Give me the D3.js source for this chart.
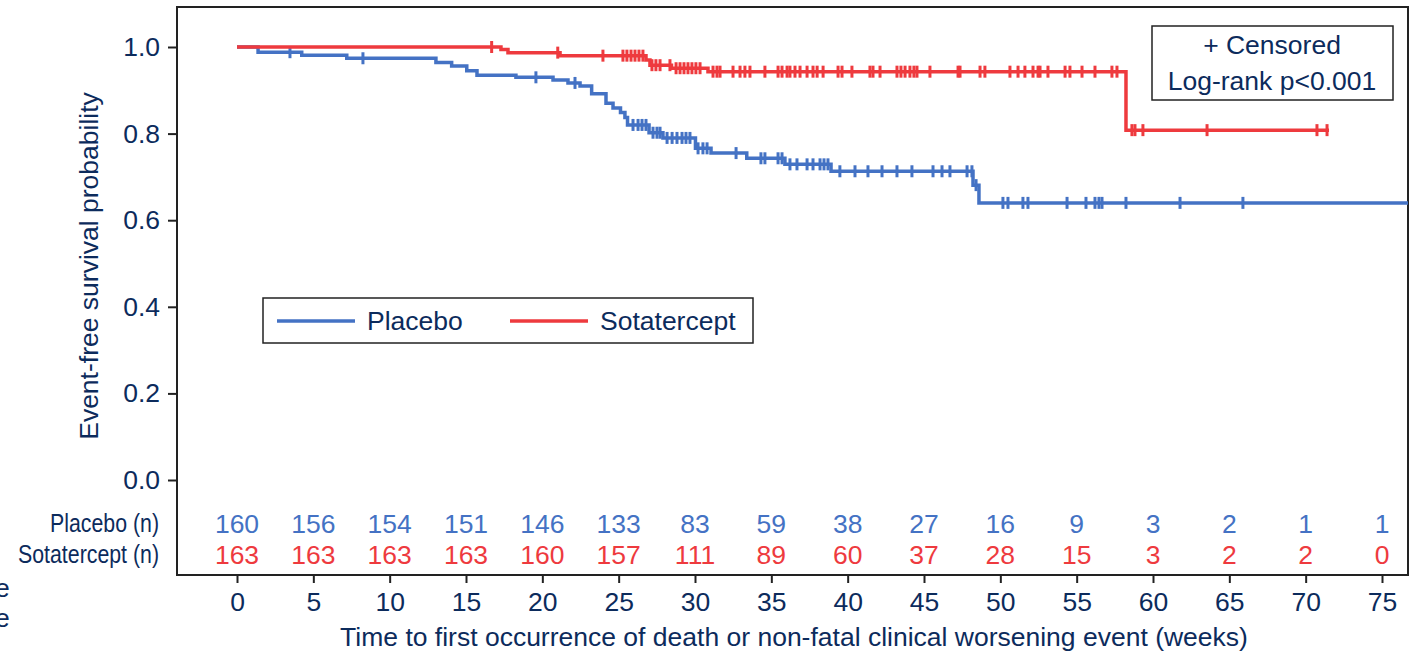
<!DOCTYPE html>
<html>
<head>
<meta charset="utf-8">
<script src="https://cdn.jsdelivr.net/npm/d3@7"></script>
<style>
  body { margin: 0; background: #fff; }
  svg { display: block; font-family: "Liberation Sans", Arial, sans-serif; }
</style>
</head>
<body>
<svg width="1416" height="654"></svg>
<script>
// Kaplan-Meier steps: [week, survival after the drop]
var placeboSteps = [
  [0, 1.0], [1.38, 0.988], [4.24, 0.981], [7.19, 0.974], [13.03, 0.964],
  [14.06, 0.956], [15.05, 0.945], [15.72, 0.935], [18.27, 0.930], [20.70, 0.924],
  [21.68, 0.917], [22.47, 0.910], [23.23, 0.892], [24.17, 0.870], [24.63, 0.859],
  [25.12, 0.849], [25.41, 0.837], [25.58, 0.820], [26.99, 0.802], [27.90, 0.790],
  [30.03, 0.766], [31.05, 0.755], [33.39, 0.743], [35.89, 0.729], [38.91, 0.713],
  [48.21, 0.681], [48.60, 0.640]
];
var placeboEnd = 77;
var placeboCensored = [
  3.47, 8.25, 19.58, 22.14, 25.94, 26.27, 26.53, 26.79, 27.25, 27.51, 27.71,
  28.17, 28.50, 28.82, 29.15, 29.41, 29.67, 30.20, 30.52, 30.79, 32.69, 34.32,
  34.58, 35.44, 35.70, 36.22, 36.68, 37.34, 37.73, 38.19, 38.45, 38.71, 39.49,
  40.48, 41.33, 42.25, 43.23, 44.21, 45.59, 46.18, 46.70, 47.82, 48.14, 48.41,
  50.17, 50.50, 51.48, 51.81, 54.37, 55.61, 56.20, 56.46, 56.66, 58.23, 61.77, 65.89
];

var sotaSteps = [
  [0, 1.0], [17.29, 0.994], [17.75, 0.987], [21.16, 0.980], [26.79, 0.970],
  [27.05, 0.958], [28.46, 0.951], [30.85, 0.943], [58.23, 0.808]
];
var sotaEnd = 71.53;
var sotaCensored = [
  16.68, 21.01, 23.97, 25.28, 25.54, 25.81, 26.07, 26.33, 26.59, 27.18, 27.44,
  27.71, 28.36, 28.76, 29.02, 29.28, 29.54, 29.80, 30.06, 30.33, 31.18, 31.44,
  31.64, 32.49, 32.95, 33.27, 33.60, 34.58, 35.44, 35.70, 36.03, 36.22, 36.55,
  36.88, 37.34, 37.73, 38.00, 38.39, 39.37, 39.63, 40.28, 41.46, 41.66, 42.12,
  43.23, 43.49, 43.76, 44.08, 44.34, 44.54, 45.39, 47.23, 47.36, 48.67, 48.99,
  50.63, 51.16, 51.61, 52.14, 52.47, 52.60, 53.12, 54.24, 54.56, 55.35, 56.20,
  57.31, 57.64, 58.62, 58.82, 59.34, 63.54, 70.74, 71.40
];

// numbers at risk
var riskWeeks = [0, 5, 10, 15, 20, 25, 30, 35, 40, 45, 50, 55, 60, 65, 70, 75];
var placeboAtRisk = [160, 156, 154, 151, 146, 133, 83, 59, 38, 27, 16, 9, 3, 2, 1, 1];
var sotaAtRisk = [163, 163, 163, 163, 160, 157, 111, 89, 60, 37, 28, 15, 3, 2, 2, 0];

var xTicks = [0, 5, 10, 15, 20, 25, 30, 35, 40, 45, 50, 55, 60, 65, 70, 75];
var yTicks = [0.0, 0.2, 0.4, 0.6, 0.8, 1.0];

var navy = "#0c2b5c",
    blue = "#4472c4",
    red = "#ee3a3e",
    frameColor = "#222",
    fontSize = "26.5px";

var svg = d3.select("svg");

var frame = {left: 177, top: 7, right: 1408, bottom: 575};

var x = d3.scaleLinear().domain([0, 75]).range([237, 1382]);
var y = d3.scaleLinear().domain([0, 1]).range([480, 47]);

svg.append("defs").append("clipPath")
    .attr("id", "plotClip")
  .append("rect")
    .attr("x", frame.left)
    .attr("y", frame.top)
    .attr("width", frame.right - frame.left)
    .attr("height", frame.bottom - frame.top);

// frame
svg.append("rect")
    .attr("x", frame.left)
    .attr("y", frame.top)
    .attr("width", frame.right - frame.left)
    .attr("height", frame.bottom - frame.top)
    .attr("fill", "none")
    .attr("stroke", frameColor)
    .attr("stroke-width", 2);

// y axis
var yAxis = svg.append("g")
    .attr("transform", "translate(" + frame.left + ",0)")
    .call(d3.axisLeft(y).tickValues(yTicks).tickFormat(d3.format(".1f")).tickSize(9).tickPadding(8));
yAxis.select(".domain").remove();
yAxis.selectAll(".tick line").attr("stroke", frameColor).attr("stroke-width", 2);
yAxis.selectAll(".tick text")
    .attr("fill", navy)
    .style("font-size", fontSize)
    .style("font-family", "Liberation Sans, Arial, sans-serif");

// x axis
var xAxis = svg.append("g")
    .attr("transform", "translate(0," + frame.bottom + ")")
    .call(d3.axisBottom(x).tickValues(xTicks).tickFormat(d3.format("d")).tickSize(8).tickPadding(9));
xAxis.select(".domain").remove();
xAxis.selectAll(".tick line").attr("stroke", frameColor).attr("stroke-width", 2);
xAxis.selectAll(".tick text")
    .attr("fill", navy)
    .style("font-size", fontSize)
    .style("font-family", "Liberation Sans, Arial, sans-serif");

// axis titles
svg.append("text")
    .attr("x", 794)
    .attr("y", 646)
    .attr("text-anchor", "middle")
    .attr("fill", navy)
    .style("font-size", fontSize)
    .text("Time to first occurrence of death or non-fatal clinical worsening event (weeks)");

svg.append("text")
    .attr("transform", "translate(98,266) rotate(-90)")
    .attr("text-anchor", "middle")
    .attr("fill", navy)
    .style("font-size", fontSize)
    .text("Event-free survival probability");

// clipped letters at the far left edge
svg.selectAll(".stray")
    .data([597, 627])
    .enter().append("text")
    .attr("class", "stray")
    .attr("x", -5)
    .attr("y", function(d) { return d; })
    .attr("fill", navy)
    .style("font-size", fontSize)
    .text("e");

// survival curves
var stepLine = d3.line()
    .x(function(d) { return x(d[0]); })
    .y(function(d) { return y(d[1]); })
    .curve(d3.curveStepAfter);

function survivalAt(steps, t) {
  var s = steps[0][1];
  for (var i = 0; i < steps.length; i++) {
    if (steps[i][0] <= t) s = steps[i][1];
  }
  return s;
}

var series = [
  {steps: placeboSteps, end: placeboEnd, censored: placeboCensored, color: blue},
  {steps: sotaSteps, end: sotaEnd, censored: sotaCensored, color: red}
];

var curves = svg.append("g").attr("clip-path", "url(#plotClip)");

series.forEach(function(s) {
  var pts = s.steps.concat([[s.end, s.steps[s.steps.length - 1][1]]]);
  curves.append("path")
      .attr("d", stepLine(pts))
      .attr("fill", "none")
      .attr("stroke", s.color)
      .attr("stroke-width", 3.5);

  curves.append("g").selectAll("line")
      .data(s.censored)
      .enter().append("line")
        .attr("x1", function(d) { return x(d); })
        .attr("x2", function(d) { return x(d); })
        .attr("y1", function(d) { return y(survivalAt(s.steps, d)) - 6; })
        .attr("y2", function(d) { return y(survivalAt(s.steps, d)) + 6; })
        .attr("stroke", s.color)
        .attr("stroke-width", 3);
});

// legend
var legend = svg.append("g");
legend.append("rect")
    .attr("x", 263).attr("y", 298)
    .attr("width", 490).attr("height", 45)
    .attr("fill", "#fff")
    .attr("stroke", frameColor)
    .attr("stroke-width", 1.5);

var legendItems = [
  {label: "Placebo", color: blue, x0: 277},
  {label: "Sotatercept", color: red, x0: 510}
];
legendItems.forEach(function(d) {
  legend.append("line")
      .attr("x1", d.x0).attr("x2", d.x0 + 78)
      .attr("y1", 321).attr("y2", 321)
      .attr("stroke", d.color)
      .attr("stroke-width", 3.5);
  legend.append("text")
      .attr("x", d.x0 + 90)
      .attr("y", 330)
      .attr("fill", navy)
      .style("font-size", fontSize)
      .text(d.label);
});

// censor / p-value box
svg.append("rect")
    .attr("x", 1152).attr("y", 26)
    .attr("width", 241).attr("height", 74)
    .attr("fill", "#fff")
    .attr("stroke", frameColor)
    .attr("stroke-width", 1.5);
svg.append("text")
    .attr("x", 1272).attr("y", 54)
    .attr("text-anchor", "middle")
    .attr("fill", navy)
    .style("font-size", fontSize)
    .text("+ Censored");
svg.append("text")
    .attr("x", 1272).attr("y", 90)
    .attr("text-anchor", "middle")
    .attr("fill", navy)
    .style("font-size", fontSize)
    .text("Log-rank p<0.001");

// numbers at risk table
var riskRows = [
  {label: "Placebo (n)", values: placeboAtRisk, color: blue, yBase: 533},
  {label: "Sotatercept (n)", values: sotaAtRisk, color: red, yBase: 564}
];
riskRows.forEach(function(r) {
  svg.append("text")
      .attr("transform", "translate(159," + (r.yBase - 1) + ") scale(0.82,1)")
      .attr("text-anchor", "end")
      .attr("fill", navy)
      .style("font-size", "26px")
      .text(r.label);
  svg.append("g").selectAll("text")
      .data(r.values)
      .enter().append("text")
        .attr("x", function(d, i) { return x(riskWeeks[i]); })
        .attr("y", r.yBase)
        .attr("text-anchor", "middle")
        .attr("fill", r.color)
        .style("font-size", fontSize)
        .text(function(d) { return d; });
});
</script>
</body>
</html>
